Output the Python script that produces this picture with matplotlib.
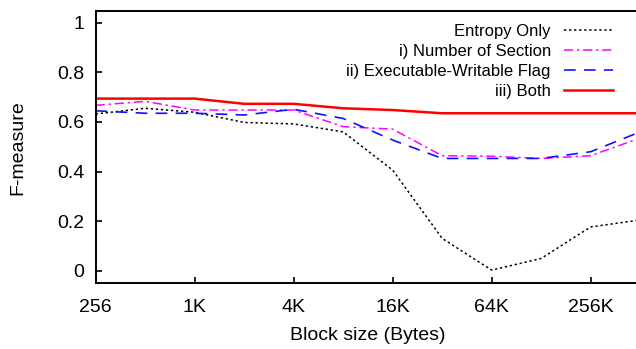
import matplotlib
matplotlib.use('Agg')
import matplotlib.pyplot as plt

plt.rcParams['font.family'] = ['Liberation Sans', 'DejaVu Sans']

# block sizes in bytes, 256 .. 512K
block_sizes = [256, 512, 1024, 2048, 4096, 8192, 16384, 32768,
               65536, 131072, 262144, 524288]

entropy_only = [0.632, 0.655, 0.639, 0.598, 0.592, 0.56, 0.406, 0.131,
                0.003, 0.05, 0.177, 0.205]
num_section = [0.667, 0.683, 0.648, 0.648, 0.648, 0.581, 0.571, 0.464,
               0.462, 0.453, 0.464, 0.535]
exec_write = [0.645, 0.635, 0.635, 0.628, 0.651, 0.614, 0.527, 0.453,
              0.453, 0.453, 0.48, 0.56]
both = [0.694, 0.694, 0.694, 0.673, 0.673, 0.655, 0.648, 0.635,
        0.635, 0.635, 0.635, 0.635]

tick_pos = [256, 1024, 4096, 16384, 65536, 262144]
tick_labels = ['256', '1K', '4K', '16K', '64K', '256K']

fig = plt.figure(figsize=(6.36, 3.49), dpi=100)
ax = fig.add_axes([0.1505, 0.1883, 0.856, 0.7802])

ax.plot(block_sizes, entropy_only, color='black', lw=1.1, ls=(0, (1.5, 1.8)),
        label='Entropy Only')
ax.plot(block_sizes, num_section, color='#ff00ff', lw=1.1,
        ls=(0, (6, 2.5, 1.5, 2.5)), label='i) Number of Section')
ax.plot(block_sizes, exec_write, color='#1010ff', lw=1.2, ls=(0, (7, 5)),
        label='ii) Executable-Writable Flag')
ax.plot(block_sizes, both, color='#ff0000', lw=1.8, label='iii) Both')

ax.set_xscale('log', base=2)
ax.set_xlim(256, 524288)
ax.set_xticks(tick_pos)
ax.set_xticklabels(tick_labels)
ax.xaxis.set_minor_locator(matplotlib.ticker.NullLocator())
ax.set_ylim(-0.05, 1.047)
ax.set_yticks([0, 0.2, 0.4, 0.6, 0.8, 1])
ax.set_yticklabels(['0', '0.2', '0.4', '0.6', '0.8', '1'])

ax.tick_params(direction='in', length=4, width=1.2, labelsize=14,
               top=False, right=False)
ax.tick_params(axis='x', pad=11)
ax.tick_params(axis='y', pad=8)
for s in ax.spines.values():
    s.set_linewidth(1.4)
ax.spines['right'].set_visible(False)

ax.set_xlabel('Block size (Bytes)', fontsize=14, labelpad=8)
ax.set_ylabel('F-measure', fontsize=14, labelpad=22)

ax.legend(loc='upper right', frameon=False, markerfirst=False, fontsize=12,
          handlelength=2.95, labelspacing=0.3, handletextpad=0.8,
          borderaxespad=0, bbox_to_anchor=(0.963, 0.978))

fig.savefig('out.png', dpi=100)
